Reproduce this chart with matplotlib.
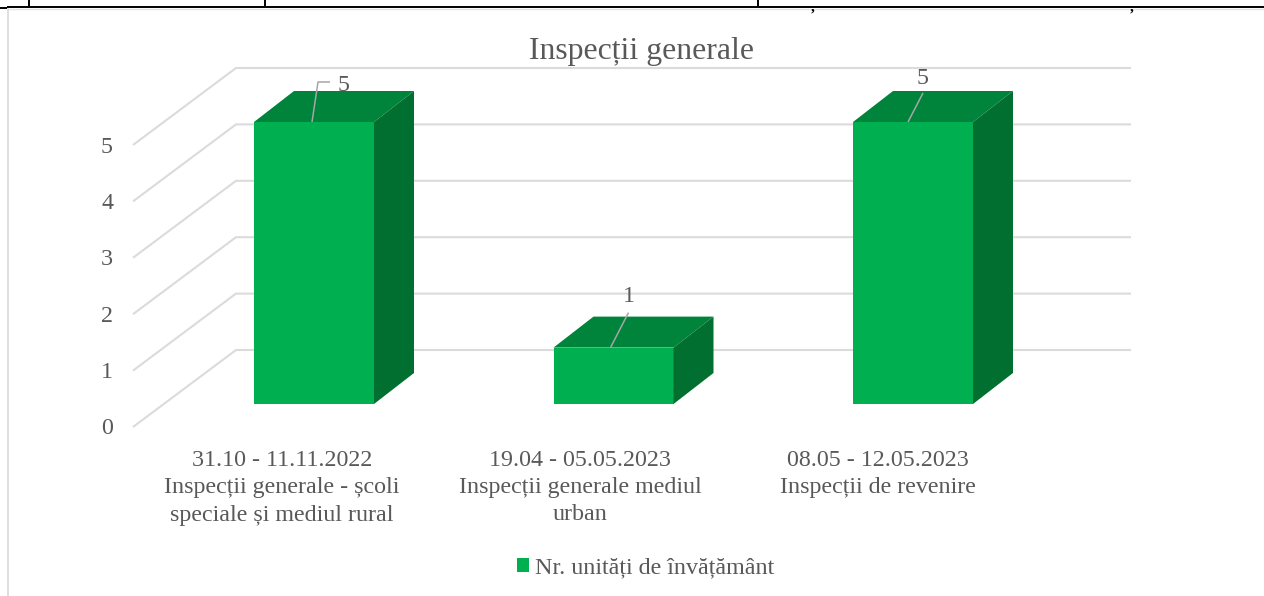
import matplotlib
matplotlib.use("Agg")
import matplotlib.pyplot as plt
from matplotlib.patches import Polygon, Patch

plt.rcParams['font.family'] = ['Liberation Serif', 'DejaVu Serif']

title = "Inspecții generale"
categories = [["31.10 - 11.11.2022", "Inspecții generale - școli", "speciale și mediul rural"],
              ["19.04 - 05.05.2023", "Inspecții generale mediul", "urban"],
              ["08.05 - 12.05.2023", "Inspecții de revenire"]]
values = [5, 1, 5]
y_ticks = [0, 1, 2, 3, 4, 5]
series_name = "Nr. unități de învățământ"

W, H = 1264, 596
UX, UY = 299.5, 56.4        # pixels per category / per value
X0, Y0 = 314.0, 404.0       # pixel position of category 0, value 0 on the bar plane
TXT = '#595959'

fig = plt.figure(figsize=(W / 100, H / 100), dpi=100)
ax = fig.add_axes([0, 0, 1, 1])
ax.set_xlim(-X0 / UX, (W - X0) / UX)
ax.set_ylim(-(H - Y0) / UY, Y0 / UY)
ax.axis('off')

def dx(px): return px / UX
def dy(px): return px / UY

def pline(xs, ys, color, lw, z=1):
    fig.add_artist(plt.Line2D([x / W for x in xs], [1 - y / H for y in ys],
                              color=color, lw=lw, zorder=z, solid_capstyle='butt'))

# page furniture: table edge above the chart and chart frame
pline([8, W], [8.5, 8.5], '#E4E4E4', 1.0)
pline([8, 8], [8, H], '#D9D9D9', 1.2)
pline([0, 7], [8.3, 8.3], 'black', 1.4, 3)
pline([7, W], [7.3, 7.3], 'black', 1.4, 3)
for xv in (28.5, 265, 757.5):
    pline([xv, xv], [0, 7], 'black', 1.4, 3)
for xc in (813, 1132):
    fig.text(xc / W, 1 - 0.5 / H, ",", color='black', fontsize=11, fontweight='bold',
             ha='center', va='top')

# walls: depth of the plot box relative to the bar plane
FRONT_DX, FRONT_DY = -31, -23     # front floor edge from the bar plane (px, up positive)
BACK_DX, BACK_DY = 72, 54         # back wall from the bar plane (px, up positive)
LEFT = dx(164 - X0)               # left end of the plot on the bar plane
RIGHT = dx(1131 - BACK_DX - X0)

for v in y_ticks:
    xs = [LEFT + dx(FRONT_DX), LEFT + dx(BACK_DX), RIGHT + dx(BACK_DX)]
    ys = [v + dy(FRONT_DY), v + dy(BACK_DY), v + dy(BACK_DY)]
    ax.plot(xs, ys, color='#DBDBDB', lw=1.5, zorder=1, solid_capstyle='butt', solid_joinstyle='miter')
    ax.text(LEFT + dx(-57), v + dy(FRONT_DY - 2), str(v), color=TXT, fontsize=17.3, ha='center', va='center')

# bars
HALF = dx(60)
DEPTH_X, DEPTH_Y = dx(40), dy(31)
for i, v in enumerate(values):
    l, r = i - HALF, i + HALF
    ax.add_patch(Polygon([(l, 0), (r, 0), (r, v), (l, v)], fc='#00B050', ec='none', zorder=3))
    ax.add_patch(Polygon([(l, v), (r, v), (r + DEPTH_X, v + DEPTH_Y), (l + DEPTH_X, v + DEPTH_Y)],
                         fc='#00843C', ec='none', zorder=3))
    ax.add_patch(Polygon([(r, 0), (r + DEPTH_X, DEPTH_Y), (r + DEPTH_X, v + DEPTH_Y), (r, v)],
                         fc='#006F30', ec='none', zorder=3))

# data labels with leader lines (pixel offsets from bar centre / top)
leaders = [[(-2, 0), (4, 40), (16, 40)], [(-3, 0), (15, 35)], [(-5, 0), (10, 29)]]
label_off = [(30, 37), (15, 51), (10, 43)]
for i, v in enumerate(values):
    pts = leaders[i]
    ax.plot([i + dx(p[0]) for p in pts], [v + dy(p[1]) for p in pts],
            color='#A6A6A6', lw=1.1, zorder=4, solid_capstyle='butt')
    ax.text(i + dx(label_off[i][0]), v + dy(label_off[i][1]), str(v), color=TXT, fontsize=17.3,
            ha='center', va='center', zorder=5)

# category labels, one text per line with the reference's wide line pitch
for i, lines in enumerate(categories):
    for k, line in enumerate(lines):
        ax.text(i + dx(-32 - 1.5 * i), dy(Y0 - (460 + 27.5 * k)), line, color=TXT, fontsize=17.3,
                ha='center', va='center')

fig.text(641.5 / W, 1 - 51 / H, title, color=TXT, fontsize=22.9, ha='center', va='center')

leg = ax.legend(handles=[Patch(fc='#00B050', ec='none', label=series_name)],
                loc='center', bbox_to_anchor=(646 / W, 1 - 568 / H), frameon=False,
                fontsize=17.3, handlelength=0.5, handleheight=0.5, handletextpad=0.25,
                labelcolor=TXT, borderpad=0)

fig.savefig('out.png', dpi=100, facecolor='white')
